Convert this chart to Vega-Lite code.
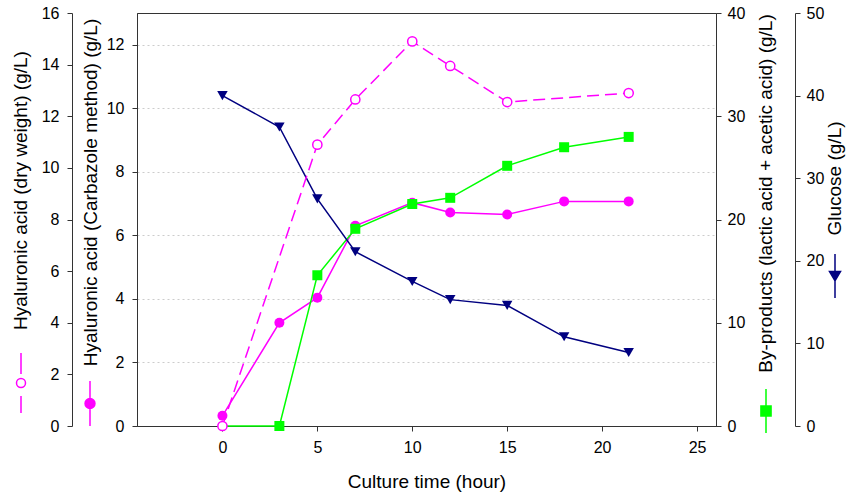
{
  "$schema": "https://vega.github.io/schema/vega-lite/v6.json",
  "autosize": {"type": "none"},
  "padding": {"left": 137, "top": 13, "right": 131, "bottom": 72},
  "width": 579,
  "height": 413,
  "background": "white",
  "config": {
    "view": {"stroke": "#333333", "strokeWidth": 1},
    "font": "Liberation Sans",
    "axis": {
      "labelFont": "Liberation Sans",
      "labelFontSize": 16,
      "labelColor": "black",
      "titleFont": "Liberation Sans",
      "titleFontSize": 19,
      "titleFontWeight": "normal",
      "titleColor": "black",
      "domainColor": "#333333",
      "tickColor": "#333333",
      "tickSize": 5,
      "grid": false
    },
    "legend": {"padding": 0, "labelFontSize": 1}
  },
  "data": {
    "values": [
      {"t": 0, "series": "dry", "value": 0},
      {"t": 5, "series": "dry", "value": 10.9},
      {"t": 7, "series": "dry", "value": 12.65},
      {"t": 10, "series": "dry", "value": 14.9},
      {"t": 12, "series": "dry", "value": 13.95},
      {"t": 15, "series": "dry", "value": 12.55},
      {"t": 21.4, "series": "dry", "value": 12.9},
      {"t": 0, "series": "carb", "value": 0.32},
      {"t": 3, "series": "carb", "value": 3.25},
      {"t": 5, "series": "carb", "value": 4.04},
      {"t": 7, "series": "carb", "value": 6.3},
      {"t": 10, "series": "carb", "value": 7.03},
      {"t": 12, "series": "carb", "value": 6.72},
      {"t": 15, "series": "carb", "value": 6.66},
      {"t": 18, "series": "carb", "value": 7.07},
      {"t": 21.4, "series": "carb", "value": 7.07},
      {"t": 0, "series": "byp", "value": 0},
      {"t": 3, "series": "byp", "value": 0},
      {"t": 5, "series": "byp", "value": 14.6},
      {"t": 7, "series": "byp", "value": 19.1},
      {"t": 10, "series": "byp", "value": 21.5},
      {"t": 12, "series": "byp", "value": 22.1},
      {"t": 15, "series": "byp", "value": 25.2},
      {"t": 18, "series": "byp", "value": 27.0},
      {"t": 21.4, "series": "byp", "value": 28.0},
      {"t": 0, "series": "glu", "value": 40.0},
      {"t": 3, "series": "glu", "value": 36.2},
      {"t": 5, "series": "glu", "value": 27.5},
      {"t": 7, "series": "glu", "value": 21.1},
      {"t": 10, "series": "glu", "value": 17.5},
      {"t": 12, "series": "glu", "value": 15.3},
      {"t": 15, "series": "glu", "value": 14.6},
      {"t": 18, "series": "glu", "value": 10.8},
      {"t": 21.4, "series": "glu", "value": 8.9}
    ]
  },
  "encoding": {
    "x": {
      "field": "t",
      "type": "quantitative",
      "scale": {"domain": [-4.5, 26], "nice": false, "zero": false},
      "axis": {"title": "Culture time (hour)", "values": [0, 5, 10, 15, 20, 25], "labelPadding": 8, "titlePadding": 17}
    }
  },
  "layer": [
    {
      "transform": [{"filter": "datum.series === 'carb'"}],
      "encoding": {
        "y": {
          "field": "value", "type": "quantitative",
          "scale": {"domain": [0, 13], "nice": false},
          "axis": {
            "orient": "left", "offset": 0, "values": [0, 2, 4, 6, 8, 10, 12],
            "grid": true, "gridColor": "#cccccc", "gridDash": [2, 3], "gridWidth": 1,
            "labelPadding": 8,
            "title": "Hyaluronic acid (Carbazole method) (g/L)",
            "titleAngle": 270, "titleAlign": "center", "titleBaseline": "middle",
            "titleX": -47, "titleY": 179
          }
        }
      },
      "layer": [
        {"mark": {"type": "line", "color": "#FF00FF", "strokeWidth": 1.5}},
        {
          "mark": {"type": "point", "filled": true, "size": 100, "opacity": 1},
          "encoding": {
            "color": {
              "datum": "carb", "scale": {"range": ["#FF00FF"]},
              "legend": {
                "orient": "none", "legendX": -70.5, "legendY": 367, "title": null, "labelExpr": "''",
                "symbolType": "M0,-1L0,1M-0.22,0A0.22,0.22 0 1,0 0.22,0A0.22,0.22 0 1,0 -0.22,0Z",
                "symbolSize": 2025, "symbolStrokeWidth": 1.5,
                "symbolFillColor": "#FF00FF", "symbolStrokeColor": "#FF00FF"
              }
            }
          }
        }
      ]
    },
    {
      "transform": [{"filter": "datum.series === 'byp'"}],
      "encoding": {
        "y": {
          "field": "value", "type": "quantitative",
          "scale": {"domain": [0, 40], "nice": false},
          "axis": {
            "orient": "right", "offset": 0, "values": [0, 10, 20, 30, 40],
            "labelPadding": 6,
            "title": "By-products (lactic acid + acetic acid) (g/L)",
            "titleAngle": 270, "titleAlign": "center", "titleBaseline": "middle",
            "titleX": 49, "titleY": 180
          }
        }
      },
      "layer": [
        {"mark": {"type": "line", "color": "#00FF00", "strokeWidth": 1.5}},
        {
          "transform": [{"filter": "datum.t > 0"}],
          "mark": {"type": "point", "shape": "square", "filled": true, "size": 100, "opacity": 1},
          "encoding": {
            "color": {
              "datum": "byp", "scale": {"range": ["#00FF00"]},
              "legend": {
                "orient": "none", "legendX": 606, "legendY": 375, "title": null, "labelExpr": "''",
                "symbolType": "M0,-1L0,1M-0.23,-0.23L0.23,-0.23L0.23,0.23L-0.23,0.23Z",
                "symbolSize": 1936, "symbolStrokeWidth": 1.5,
                "symbolFillColor": "#00FF00", "symbolStrokeColor": "#00FF00"
              }
            }
          }
        }
      ]
    },
    {
      "transform": [{"filter": "datum.series === 'glu'"}],
      "encoding": {
        "y": {
          "field": "value", "type": "quantitative",
          "scale": {"domain": [0, 50], "nice": false},
          "axis": {
            "orient": "right", "offset": 79, "values": [0, 10, 20, 30, 40, 50],
            "labelPadding": 6,
            "title": "Glucose (g/L)",
            "titleAngle": 270, "titleAlign": "center", "titleBaseline": "middle",
            "titleX": 39, "titleY": 165
          }
        }
      },
      "layer": [
        {"mark": {"type": "line", "color": "#000080", "strokeWidth": 1.5}},
        {
          "mark": {"type": "point", "shape": "triangle-down", "filled": true, "size": 110, "opacity": 1},
          "encoding": {
            "color": {
              "datum": "glu", "scale": {"range": ["#000080"]},
              "legend": {
                "orient": "none", "legendX": 675, "legendY": 240, "title": null, "labelExpr": "''",
                "symbolType": "M0,-1L0,1M-0.25,-0.2L0.25,-0.2L0,0.22Z",
                "symbolSize": 1936, "symbolStrokeWidth": 1.5,
                "symbolFillColor": "#000080", "symbolStrokeColor": "#000080"
              }
            }
          }
        }
      ]
    },
    {
      "transform": [{"filter": "datum.series === 'dry'"}],
      "encoding": {
        "y": {
          "field": "value", "type": "quantitative",
          "scale": {"domain": [0, 16], "nice": false},
          "axis": {
            "orient": "left", "offset": 65, "values": [0, 2, 4, 6, 8, 10, 12, 14, 16],
            "labelPadding": 8,
            "title": "Hyaluronic acid (dry weight) (g/L)",
            "titleAngle": 270, "titleAlign": "center", "titleBaseline": "middle",
            "titleX": -52, "titleY": 177
          }
        }
      },
      "layer": [
        {"mark": {"type": "line", "color": "#FF00FF", "strokeWidth": 1.5, "strokeDash": [12, 6]}},
        {
          "mark": {"type": "point", "filled": false, "fill": "white", "size": 85, "strokeWidth": 1.5, "opacity": 1},
          "encoding": {
            "color": {
              "datum": "dry", "scale": {"range": ["#FF00FF"]},
              "legend": {
                "orient": "none", "legendX": -147, "legendY": 339, "title": null, "labelExpr": "''",
                "symbolType": "M0,-1L0,-0.3M0,0.43L0,1M-0.15,0A0.15,0.15 0 1,0 0.15,0A0.15,0.15 0 1,0 -0.15,0Z",
                "symbolSize": 3600, "symbolStrokeWidth": 1.5,
                "symbolFillColor": "white", "symbolStrokeColor": "#FF00FF"
              }
            }
          }
        }
      ]
    }
  ],
  "resolve": {"scale": {"y": "independent", "color": "independent"}, "axis": {"y": "independent"}, "legend": {"color": "independent"}}
}
